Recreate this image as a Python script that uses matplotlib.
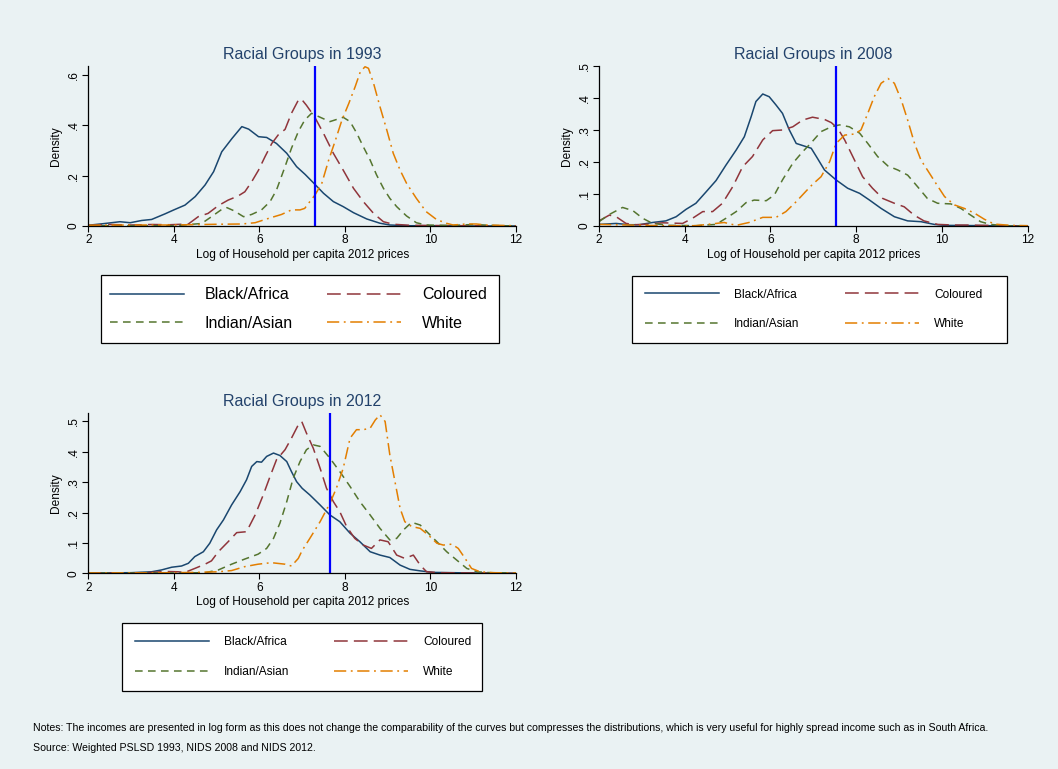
import matplotlib
matplotlib.use("Agg")
import matplotlib.pyplot as plt

plt.rcParams['font.family'] = ['Liberation Sans', 'DejaVu Sans']

# ---------------- data: 1993 ----------------
x93_black = [2.0, 2.39, 2.74, 2.98, 3.25, 3.48, 3.79, 4.0, 4.26, 4.5, 4.73, 4.93, 5.12, 5.36, 5.59, 5.75, 5.98, 6.17, 6.4, 6.64, 6.87, 7.07, 7.29, 7.5, 7.73, 7.96, 8.2, 8.51, 8.82, 9.05, 9.5, 10, 11, 12]
y93_black = [0.003, 0.01, 0.017, 0.013, 0.022, 0.026, 0.048, 0.064, 0.083, 0.117, 0.163, 0.216, 0.295, 0.348, 0.395, 0.385, 0.355, 0.352, 0.328, 0.289, 0.236, 0.205, 0.167, 0.13, 0.097, 0.077, 0.053, 0.028, 0.011, 0.004, 0.001, 0.001, 0, 0]
x93_col = [2.0, 2.5, 3.0, 3.5, 3.9, 4.34, 4.57, 4.8, 5.04, 5.27, 5.5, 5.66, 5.82, 5.98, 6.13, 6.29, 6.44, 6.6, 6.75, 6.91, 6.98, 7.1, 7.29, 7.5, 7.73, 7.96, 8.2, 8.43, 8.67, 8.9, 9.13, 9.5, 10, 11, 12]
y93_col = [0.002, 0.006, 0.004, 0.006, 0.005, 0.008, 0.037, 0.05, 0.081, 0.103, 0.119, 0.136, 0.176, 0.222, 0.275, 0.328, 0.362, 0.384, 0.448, 0.5, 0.505, 0.48, 0.434, 0.368, 0.289, 0.222, 0.15, 0.097, 0.05, 0.017, 0.007, 0.003, 0.002, 0.001, 0]
x93_ind = [2.0, 3.0, 4.0, 4.65, 4.88, 5.12, 5.24, 5.4, 5.63, 5.82, 6.05, 6.25, 6.4, 6.6, 6.75, 6.91, 7.06, 7.22, 7.45, 7.65, 7.96, 8.12, 8.28, 8.43, 8.59, 8.74, 8.9, 9.05, 9.21, 9.44, 9.67, 9.9, 10.5, 11.0, 11.5, 12]
y93_ind = [0.001, 0.001, 0.001, 0.01, 0.037, 0.066, 0.073, 0.061, 0.037, 0.046, 0.064, 0.097, 0.143, 0.236, 0.309, 0.375, 0.421, 0.448, 0.43, 0.415, 0.432, 0.415, 0.368, 0.315, 0.262, 0.203, 0.15, 0.11, 0.077, 0.04, 0.013, 0.004, 0.002, 0.006, 0.002, 0]
x93_whi = [2.0, 3.0, 4.0, 5.04, 5.59, 5.9, 6.21, 6.52, 6.75, 6.95, 7.06, 7.18, 7.3, 7.46, 7.62, 7.78, 7.93, 8.09, 8.24, 8.36, 8.47, 8.55, 8.67, 8.82, 8.98, 9.13, 9.29, 9.44, 9.67, 9.9, 10.14, 10.37, 10.53, 10.84, 11.07, 11.3, 12]
y93_whi = [0.003, 0.004, 0.004, 0.007, 0.008, 0.013, 0.03, 0.046, 0.064, 0.064, 0.07, 0.097, 0.123, 0.17, 0.262, 0.342, 0.421, 0.487, 0.554, 0.613, 0.633, 0.627, 0.567, 0.474, 0.381, 0.289, 0.222, 0.17, 0.11, 0.057, 0.026, 0.011, 0.004, 0.008, 0.008, 0.004, 0.001]

# ---------------- data: 2008 ----------------
x08_black = [2.0, 2.4, 2.71, 2.94, 3.25, 3.56, 3.8, 4.03, 4.26, 4.5, 4.73, 4.96, 5.2, 5.39, 5.55, 5.66, 5.82, 5.97, 6.13, 6.28, 6.44, 6.6, 6.83, 6.95, 7.07, 7.26, 7.53, 7.8, 8.08, 8.31, 8.58, 8.89, 9.2, 9.51, 9.82, 10.06, 11, 12]
y08_black = [0.005, 0.008, 0.004, 0.004, 0.011, 0.016, 0.029, 0.052, 0.071, 0.107, 0.142, 0.19, 0.2375, 0.279, 0.342, 0.389, 0.4125, 0.404, 0.378, 0.352, 0.3, 0.258, 0.248, 0.243, 0.217, 0.175, 0.144, 0.118, 0.102, 0.081, 0.055, 0.029, 0.016, 0.0135, 0.005, 0.002, 0.001, 0]
x08_col = [2.0, 2.24, 2.4, 2.63, 2.86, 3.17, 3.49, 3.95, 4.18, 4.42, 4.65, 4.88, 5.12, 5.35, 5.58, 5.82, 6.05, 6.28, 6.52, 6.75, 6.98, 7.26, 7.42, 7.57, 7.73, 7.96, 8.15, 8.38, 8.62, 8.89, 9.12, 9.35, 9.58, 9.9, 10.28, 10.59, 11.5, 12]
y08_col = [0.016, 0.034, 0.029, 0.008, 0.004, 0.006, 0.010, 0.008, 0.024, 0.045, 0.045, 0.071, 0.123, 0.185, 0.217, 0.269, 0.298, 0.3, 0.31, 0.331, 0.34, 0.333, 0.323, 0.305, 0.269, 0.206, 0.154, 0.118, 0.086, 0.071, 0.06, 0.034, 0.016, 0.005, 0.003, 0.003, 0.001, 0]
x08_ind = [2.0, 2.24, 2.55, 2.79, 3.02, 3.25, 3.64, 4.26, 4.73, 4.96, 5.2, 5.43, 5.62, 5.9, 6.09, 6.28, 6.52, 6.75, 6.95, 7.18, 7.42, 7.61, 7.84, 8.08, 8.27, 8.5, 8.74, 8.97, 9.2, 9.43, 9.66, 9.9, 10.21, 10.44, 10.67, 10.9, 11.13, 11.44, 12]
y08_ind = [0.0135, 0.036, 0.058, 0.048, 0.024, 0.008, 0.002, 0.001, 0.005, 0.024, 0.045, 0.073, 0.081, 0.079, 0.097, 0.144, 0.196, 0.232, 0.26, 0.295, 0.31, 0.316, 0.31, 0.29, 0.258, 0.217, 0.1875, 0.175, 0.159, 0.123, 0.086, 0.071, 0.069, 0.055, 0.034, 0.0135, 0.005, 0.001, 0]
x08_whi = [2.0, 2.71, 3.49, 4.26, 4.73, 4.92, 5.2, 5.5, 5.82, 6.13, 6.36, 6.6, 6.83, 6.98, 7.18, 7.38, 7.53, 7.73, 7.96, 8.11, 8.27, 8.42, 8.58, 8.74, 8.89, 9.05, 9.2, 9.36, 9.51, 9.66, 9.86, 10.06, 10.29, 10.52, 10.76, 10.99, 11.22, 11.61, 12]
y08_whi = [0.005, 0.003, 0.001, 0.001, 0.008, 0.011, 0.002, 0.011, 0.027, 0.027, 0.045, 0.076, 0.109, 0.13, 0.154, 0.201, 0.258, 0.284, 0.2875, 0.3, 0.352, 0.404, 0.446, 0.461, 0.446, 0.394, 0.331, 0.258, 0.206, 0.175, 0.133, 0.092, 0.066, 0.055, 0.04, 0.021, 0.006, 0.002, 0.001]

# ---------------- data: 2012 ----------------
x12_black = [2.0, 3.0, 3.48, 3.71, 3.95, 4.18, 4.34, 4.49, 4.69, 4.84, 5.0, 5.16, 5.35, 5.55, 5.7, 5.82, 5.94, 6.05, 6.17, 6.33, 6.48, 6.64, 6.75, 6.87, 7.0, 7.18, 7.42, 7.65, 7.88, 8.12, 8.35, 8.59, 8.82, 9.05, 9.29, 9.52, 9.76, 10.07, 11, 12]
y12_black = [0.001, 0.002, 0.005, 0.011, 0.02, 0.024, 0.033, 0.055, 0.071, 0.099, 0.143, 0.176, 0.225, 0.269, 0.308, 0.352, 0.368, 0.366, 0.385, 0.396, 0.388, 0.368, 0.335, 0.302, 0.28, 0.258, 0.225, 0.192, 0.17, 0.132, 0.104, 0.071, 0.06, 0.052, 0.027, 0.013, 0.008, 0.003, 0.001, 0]
x12_col = [2.0, 3.0, 3.5, 3.8, 4.1, 4.26, 4.49, 4.73, 4.88, 5.04, 5.27, 5.47, 5.7, 5.9, 6.09, 6.25, 6.4, 6.6, 6.75, 6.91, 6.99, 7.1, 7.26, 7.42, 7.57, 7.73, 7.88, 8.04, 8.23, 8.43, 8.62, 8.82, 9.01, 9.21, 9.4, 9.6, 9.76, 9.91, 10.22, 12]
y12_col = [0.001, 0.001, 0.003, 0.006, 0.005, 0.003, 0.016, 0.03, 0.041, 0.071, 0.104, 0.134, 0.137, 0.192, 0.258, 0.319, 0.374, 0.407, 0.445, 0.489, 0.5, 0.462, 0.412, 0.346, 0.28, 0.236, 0.203, 0.154, 0.115, 0.093, 0.082, 0.11, 0.104, 0.06, 0.049, 0.06, 0.027, 0.005, 0.002, 0]
x12_ind = [2.0, 4.0, 4.73, 5.04, 5.35, 5.66, 5.97, 6.17, 6.33, 6.48, 6.64, 6.79, 6.95, 7.1, 7.26, 7.42, 7.65, 7.88, 8.12, 8.35, 8.59, 8.82, 9.05, 9.21, 9.37, 9.56, 9.76, 9.95, 10.15, 10.38, 10.61, 10.85, 11.09, 11.4, 12]
y12_ind = [0.001, 0.001, 0.002, 0.011, 0.03, 0.047, 0.063, 0.082, 0.115, 0.165, 0.236, 0.313, 0.368, 0.407, 0.423, 0.418, 0.379, 0.335, 0.286, 0.236, 0.192, 0.148, 0.11, 0.115, 0.143, 0.168, 0.159, 0.132, 0.104, 0.071, 0.044, 0.016, 0.005, 0.002, 0.001]
x12_whi = [2.0, 4.0, 4.5, 5.04, 5.35, 5.66, 5.97, 6.28, 6.6, 6.75, 6.91, 7.0, 7.18, 7.42, 7.65, 7.8, 7.96, 8.12, 8.27, 8.43, 8.59, 8.71, 8.82, 8.94, 9.05, 9.17, 9.29, 9.4, 9.56, 9.76, 9.95, 10.15, 10.3, 10.5, 10.65, 10.81, 10.96, 11.16, 11.47, 12]
y12_whi = [0.001, 0.002, 0.003, 0.005, 0.009, 0.022, 0.03, 0.035, 0.03, 0.024, 0.049, 0.075, 0.115, 0.17, 0.231, 0.28, 0.346, 0.445, 0.473, 0.473, 0.478, 0.505, 0.522, 0.5, 0.39, 0.302, 0.214, 0.17, 0.154, 0.148, 0.126, 0.099, 0.093, 0.096, 0.082, 0.049, 0.016, 0.005, 0.002, 0.001]

series_labels = ["Black/Africa", "Coloured", "Indian/Asian", "White"]
titles = ["Racial Groups in 1993", "Racial Groups in 2008", "Racial Groups in 2012"]
vlines = [7.29, 7.52, 7.65]
ymax = [0.636, 0.5, 0.527]
yticks = [[0, 0.2, 0.4, 0.6], [0, 0.1, 0.2, 0.3, 0.4, 0.5], [0, 0.1, 0.2, 0.3, 0.4, 0.5]]
ytick_labels = [["0", ".2", ".4", ".6"], ["0", ".1", ".2", ".3", ".4", ".5"], ["0", ".1", ".2", ".3", ".4", ".5"]]
xticks = [2, 4, 6, 8, 10, 12]
xlabel = "Log of Household per capita 2012 prices"
note1 = ("Notes: The incomes are presented in log form as this does not change the comparability of the curves "
         "but compresses the distributions, which is very useful for highly spread income such as in South Africa.")
note2 = "Source: Weighted PSLSD 1993, NIDS 2008 and NIDS 2012."

panels = [
    [(x93_black, y93_black), (x93_col, y93_col), (x93_ind, y93_ind), (x93_whi, y93_whi)],
    [(x08_black, y08_black), (x08_col, y08_col), (x08_ind, y08_ind), (x08_whi, y08_whi)],
    [(x12_black, y12_black), (x12_col, y12_col), (x12_ind, y12_ind), (x12_whi, y12_whi)],
]

BG = "#EAF2F3"
colors = ["#1A476F", "#90353B", "#55752F", "#E37E00"]
dashes = [None, (9, 4), (5, 3.5), (8, 3, 1.2, 3)]
LW = 1.1

W, H = 1058, 769
fig = plt.figure(figsize=(W / 100, H / 100), dpi=100, facecolor=BG)

def fbox(l, t, r, b):
    return [l / W, 1 - b / H, (r - l) / W, (b - t) / H]

axes_boxes = [fbox(88.3, 66, 516, 226), fbox(599, 66, 1027.7, 226), fbox(88.3, 413.3, 516, 573.3)]
legend_boxes = [(98, 275, 499, 343), (632, 276, 995, 343), (122, 623, 484, 691)]
frame_left = [101, 632, 122]
frame_right = [499, 1007, 482]
legend_fs = [11.5, 8.6, 8.6]
legend_ls = [0.85, 1.5, 1.5]
legend_bp = [0.75, 1.05, 1.05]

for i, series in enumerate(panels):
    ax = fig.add_axes(axes_boxes[i])
    ax.set_facecolor(BG)
    handles = []
    for j, (xs, ys) in enumerate(series):
        kw = dict(color=colors[j], lw=LW, label=series_labels[j])
        if dashes[j] is not None:
            kw['dashes'] = dashes[j]
        ln, = ax.plot(xs, ys, **kw)
        handles.append(ln)
    ax.axvline(vlines[i], color="#0000FF", lw=1.6)
    ax.set_xlim(2, 12)
    ax.set_ylim(0, ymax[i])
    ax.set_xticks(xticks)
    ax.set_xticklabels([str(t) for t in xticks], fontsize=8.6)
    ax.set_yticks(yticks[i])
    ax.set_yticklabels(ytick_labels[i], fontsize=8.6, rotation=90, va='center')
    ax.tick_params(direction='out', length=4, width=0.8, colors='black', pad=2)
    for s in ['top', 'right']:
        ax.spines[s].set_visible(False)
    for s in ['left', 'bottom']:
        ax.spines[s].set_linewidth(0.9)
    ax.set_xlabel(xlabel, fontsize=8.6, labelpad=2)
    ax.set_ylabel("Density", fontsize=8.6, labelpad=4)
    ax.set_title(titles[i], fontsize=11.5, color="#23426B", pad=5)

    l, t, r, b = legend_boxes[i]
    # matplotlib fills columns first: col1 = Black, Indian ; col2 = Coloured, White
    h_ord = [handles[0], handles[2], handles[1], handles[3]]
    l_ord = [series_labels[0], series_labels[2], series_labels[1], series_labels[3]]
    fs = legend_fs[i]
    leg = fig.legend(h_ord, l_ord, ncol=2, mode='expand', loc='center',
                     bbox_to_anchor=(l / W, 1 - b / H, (r - l) / W, (b - t) / H),
                     fontsize=fs, frameon=False, handlelength=74 / (fs * 1.389),
                     handletextpad=1.3, labelspacing=legend_ls[i], borderpad=legend_bp[i],
                     borderaxespad=0)
    fl = frame_left[i]
    fr = plt.Rectangle((fl / W, 1 - b / H), (frame_right[i] - fl) / W, (b - t) / H,
                       transform=fig.transFigure, facecolor='white', edgecolor='black',
                       lw=0.9, zorder=0)
    fig.add_artist(fr)
    leg.set_zorder(2)

fig.text(33 / W, 1 - 728 / H, note1, fontsize=7.6, va='center', ha='left')
fig.text(33 / W, 1 - 748 / H, note2, fontsize=7.6, va='center', ha='left')

fig.savefig("out.png", dpi=100, facecolor=BG)
